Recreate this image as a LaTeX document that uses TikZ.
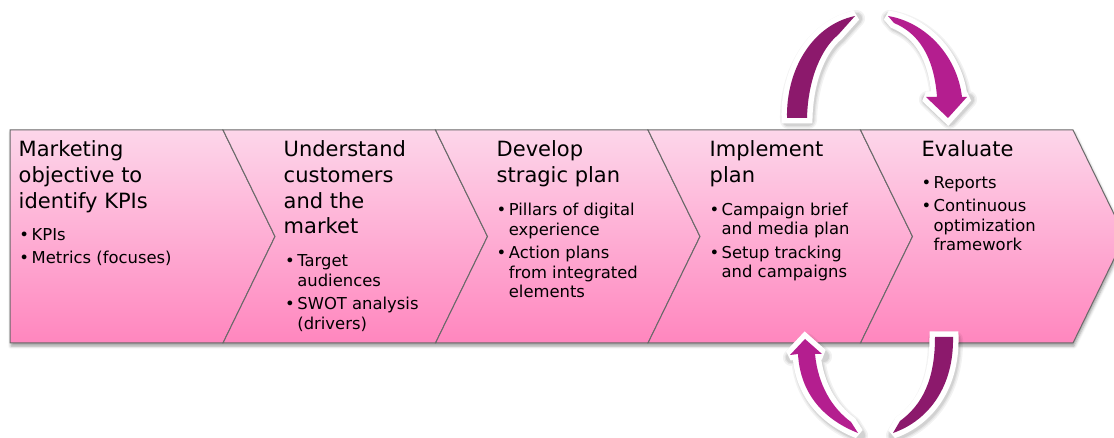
\documentclass[tikz,border=0pt]{standalone}
\usepackage{fontspec}
\setmainfont{DejaVu Sans}
\usetikzlibrary{shadows.blur}

\definecolor{chevtop}{RGB}{253,214,234}
\definecolor{chevbot}{RGB}{255,134,190}
\definecolor{chevline}{RGB}{105,105,105}
\definecolor{loopdark}{RGB}{140,25,108}
\definecolor{looplight}{RGB}{180,30,143}

\tikzset{
  chevron/.style={draw=chevline, line width=1pt, line join=miter,
    top color=chevtop, bottom color=chevbot},
  titletext/.style={anchor=base west, inner sep=0pt,
    font=\fontsize{21}{25.7}\selectfont},
  bullettext/.style={anchor=base west, inner sep=0pt,
    font=\fontsize{16.4}{19.5}\selectfont},
  loopborder/.style={draw=white, line width=11pt, line join=miter, miter limit=2},
  loopshade/.style={draw=black, line join=round},
  % pieces of the two loop arrows
  topleft/.style={insert path={(787,118) .. controls (786,70) and (812,25) .. (855,16)
    -- (838,35) .. controls (822,48) and (808,78) .. (807,118) -- cycle}},
  topright/.style={insert path={(888,16) .. controls (925,22) and (957,55) .. (962,97)
    -- (967,97) -- (948,118) -- (926,97) -- (937,97)
    .. controls (934,56) and (918,33) .. (894,23) -- cycle}},
  botright/.style={insert path={(953,337) .. controls (954,385) and (930,420) .. (893,433)
    -- (900,421) .. controls (922,405) and (935,380) .. (935,337) -- cycle}},
  botleft/.style={insert path={(858,433) .. controls (820,418) and (800,390) .. (798,354)
    -- (790,355) -- (805,339) -- (822,354) -- (815,354)
    .. controls (818,385) and (832,408) .. (851,422) -- cycle}},
}

\begin{document}
\begin{tikzpicture}[x=1pt, y=-1pt]
\useasboundingbox (0,0) rectangle (1114,438);

% soft shadow under the whole process band
\path[fill=white, blur shadow={shadow xshift=1pt, shadow yshift=-3pt,
  shadow blur radius=3pt, shadow opacity=40}]
  (10,130) -- (1073,130) -- (1125,236.5) -- (1073,343) -- (10,343) -- cycle;

% the five process steps
\path[chevron] (10,130) -- (223,130) -- (275,236.5) -- (223,343) -- (10,343) -- cycle;
\path[chevron] (223,130) -- (435.5,130) -- (487.5,236.5) -- (435.5,343) -- (223,343) -- (275,236.5) -- cycle;
\path[chevron] (435.5,130) -- (648,130) -- (700,236.5) -- (648,343) -- (435.5,343) -- (487.5,236.5) -- cycle;
\path[chevron] (648,130) -- (860.5,130) -- (912.5,236.5) -- (860.5,343) -- (648,343) -- (700,236.5) -- cycle;
\path[chevron] (860.5,130) -- (1073,130) -- (1125,236.5) -- (1073,343) -- (860.5,343) -- (912.5,236.5) -- cycle;

% step texts
\node[titletext] (t1) at (18.5,156.7) {\begin{tabular}[t]{@{}l@{}}Marketing\\objective to\\identify KPIs\end{tabular}};
\node[bullettext] (b1) at (19.3,240.8) {\begin{tabular}[t]{@{}l@{\hspace{2.5pt}}l@{}}•&KPIs\\[3.3pt]•&Metrics (focuses)\end{tabular}};

\node[titletext] (t2) at (283.5,156.7) {\begin{tabular}[t]{@{}l@{}}Understand\\customers\\and the\\market\end{tabular}};
\node[bullettext] (b2) at (285,266.7) {\begin{tabular}[t]{@{}l@{\hspace{2.5pt}}l@{}}•&Target\\&audiences\\[4pt]•&SWOT analysis\\&(drivers)\end{tabular}};

\node[titletext] (t3) at (496.5,156.7) {\begin{tabular}[t]{@{}l@{}}Develop\\stragic plan\end{tabular}};
\node[bullettext] (b3) at (496.5,215.6) {\begin{tabular}[t]{@{}l@{\hspace{2.5pt}}l@{}}•&Pillars of digital\\&experience\\[4pt]•&Action plans\\&from integrated\\&elements\end{tabular}};

\node[titletext] (t4) at (709.5,156.7) {\begin{tabular}[t]{@{}l@{}}Implement\\plan\end{tabular}};
\node[bullettext] (b4) at (709.3,215.2) {\begin{tabular}[t]{@{}l@{\hspace{2.5pt}}l@{}}•&Campaign brief\\&and media plan\\[4pt]•&Setup tracking\\&and campaigns\end{tabular}};

\node[titletext] (t5) at (921.5,156.2) {\begin{tabular}[t]{@{}l@{}}Evaluate\end{tabular}};
\node[bullettext] (b5) at (921.3,188.5) {\begin{tabular}[t]{@{}l@{\hspace{2.5pt}}l@{}}•&Reports\\[4pt]•&Continuous\\&optimization\\&framework\end{tabular}};

% loop arrows: soft shadow, white rim, coloured body
\foreach \sw/\so in {17/0.05, 14/0.06, 11.5/0.08}{
  \begin{scope}[shift={(1.5,2.5)}]
    \path[loopshade, line width=\sw pt, draw opacity=\so, topleft];
    \path[loopshade, line width=\sw pt, draw opacity=\so, topright];
    \path[loopshade, line width=\sw pt, draw opacity=\so, botright];
    \path[loopshade, line width=\sw pt, draw opacity=\so, botleft];
  \end{scope}
}
\path[loopborder, fill=white, topleft];
\path[loopborder, fill=white, topright];
\path[loopborder, fill=white, botright];
\path[loopborder, fill=white, botleft];
\path[fill=loopdark, topleft];
\path[fill=looplight, topright];
\path[fill=loopdark, botright];
\path[fill=looplight, botleft];
\end{tikzpicture}
\end{document}
